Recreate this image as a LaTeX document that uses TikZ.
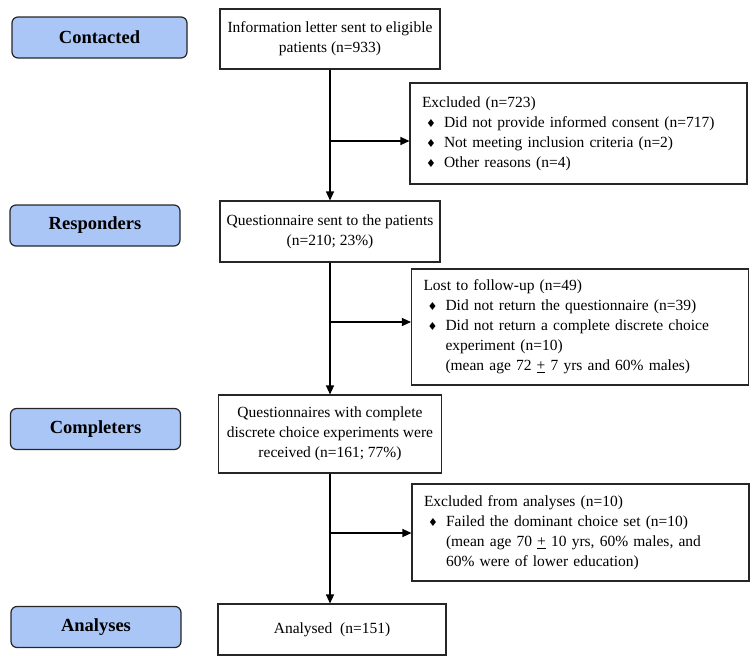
\documentclass[tikz,border=0pt]{standalone}
\usepackage{fontspec}
\setmainfont{Liberation Serif}
\newfontfamily\symfont{DejaVu Sans}
\usepackage{xcolor}
\usetikzlibrary{arrows.meta, positioning, calc}
\definecolor{phaseblue}{RGB}{170,198,247}
\tikzstyle{arrow} = [
    line width=1.2pt,
    -{Triangle[length=9pt,width=8pt]},
    draw=black
]
\newcommand{\dia}{{\symfont\fontsize{11}{11}\selectfont ♦}}
\newcommand{\itm}[1]{\par\hangindent=22pt\hangafter=0\noindent\llap{\dia\hspace{8pt}}#1\par}

\begin{document}
\begin{tikzpicture}[
    x=1pt, y=-1pt,
    phase/.style={
        draw=black!85,
        fill=phaseblue,
        rounded corners=6pt,
        line width=1.2pt,
        minimum width=170pt,
        minimum height=41pt,
        font=\bfseries\fontsize{18.5}{22}\selectfont
    },
    mainbox/.style={
        draw=black!85,
        line width=1.1pt,
        align=center,
        minimum width=220pt,
        font=\fontsize{15.5}{20}\selectfont
    },
    exclbox/.style={
        draw=black!85,
        line width=1.1pt,
        align=left,
        text width=313pt,
        inner xsep=12pt,
        minimum width=337pt,
        font=\fontsize{15.5}{20}\selectfont
    }
]
\useasboundingbox (0,0) rectangle (756,664);

% Nodes
\node (contacted) [phase, minimum width=175pt] at (99.5,37.5) {Contacted};
\node (responders) [phase] at (95,225.5) {Responders};
\node (completers) [phase] at (95.5,429) {Completers};
\node (analyses) [phase] at (96,627) {Analyses};

\node (letter) [mainbox, minimum height=60pt] at (330,39) {Information letter sent to eligible\\ patients (n=933)};
\node (quest) [mainbox, minimum height=61pt] at (330,231.5) {Questionnaire sent to the patients\\ (n=210; 23\%)};
\node (received) [mainbox, minimum width=223pt, minimum height=78pt] at (330,434) {Questionnaires with complete\\ discrete choice experiments were\\ received (n=161; 77\%)};
\node (analysed) [mainbox, minimum width=228pt, minimum height=51pt] at (332,629.5) {Analysed\ \ (n=151)};

\node (excl1) [exclbox, minimum height=101pt] at (578.5,133.5) {Excluded (n=723)
\itm{Did not provide informed consent (n=717)}
\itm{Not meeting inclusion criteria (n=2)}
\itm{Other reasons (n=4)}};
\node (excl2) [exclbox, minimum height=116pt] at (580,327) {Lost to follow-up (n=49)
\itm{Did not return the questionnaire (n=39)}
\itm{Did not return a complete discrete choice\newline experiment (n=10)\newline (mean age 72 \underline{+} 7 yrs and 60\% males)}};
\node (excl3) [exclbox, minimum height=97pt] at (580.5,532.5) {Excluded from analyses (n=10)
\itm{Failed the dominant choice set (n=10)\newline (mean age 70 \underline{+} 10 yrs, 60\% males, and\newline 60\% were of lower education)}};

\coordinate (split1) at (330,141);
\coordinate (split2) at (330,322);
\coordinate (split3) at (330,533);

% Edges
\draw[arrow] (letter) -- (quest);
\draw[arrow] (quest) -- (received);
\draw[arrow] (received.south -| 330,0) -- (analysed.north -| 330,0);
\draw[arrow] (split1) -- (split1 -| excl1.west);
\draw[arrow] (split2) -- (split2 -| excl2.west);
\draw[arrow] (split3) -- (split3 -| excl3.west);

\end{tikzpicture}
\end{document}
